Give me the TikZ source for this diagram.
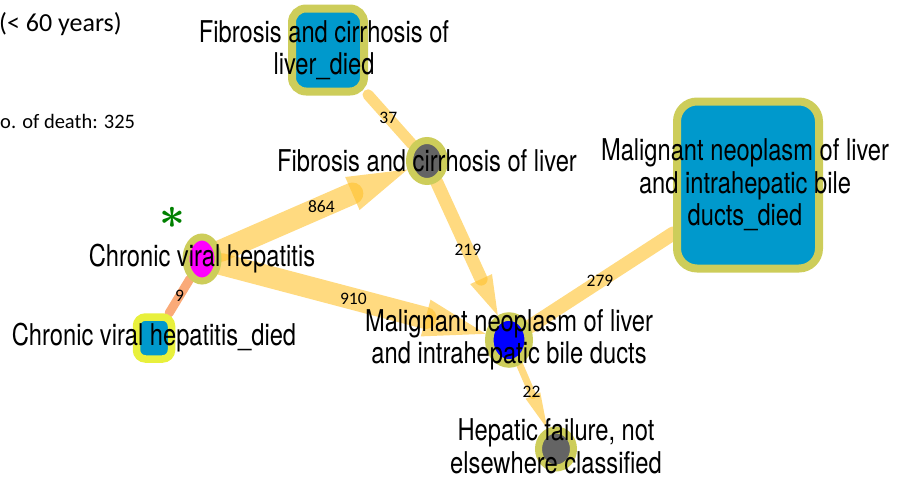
\documentclass[tikz,border=0pt]{standalone}
\usepackage{fontspec}
\usepackage{tikz}
\usetikzlibrary{arrows.meta,shapes.geometric,backgrounds}
\newfontfamily\nodefont[FakeStretch=0.79]{TeX Gyre Heros}
\newfontfamily\countfont{Carlito}
\definecolor{ringcol}{RGB}{205,205,90}
\definecolor{ringdiedcol}{RGB}{232,240,60}
\definecolor{diedcol}{RGB}{0,153,204}
\definecolor{flowcol}{RGB}{255,193,43}
\definecolor{deathcol}{RGB}{247,113,30}
\definecolor{greycol}{RGB}{100,100,100}
\definecolor{hepcol}{RGB}{255,0,255}
\definecolor{malcol}{RGB}{0,0,255}
\definecolor{starcol}{RGB}{0,128,0}
\tikzset{
  % disease node: ring round a coloured core
  dnode/.style={ellipse, draw=ringcol, line width=7pt, fill=#1, inner sep=0pt},
  dnode/.default={greycol},
  % death node: rounded box
  dbox/.style={rectangle, rounded corners=#1, draw=ringcol, line width=8pt, fill=diedcol, inner sep=0pt},
  dbox/.default={12pt},
  % node text
  lbl/.style={font=\nodefont\fontsize{30}{32.5}\selectfont, align=center, inner sep=0pt},
  % transition flow
  flow/.style={line width=#1, draw=flowcol, opacity=0.6, line cap=round},
  % flow with a head: width, head length, head width
  hflow/.style n args={3}{flow=#1, -{Triangle[length=#2, width=#3, line width=0pt]}},
  % count on a flow
  countlbl/.style={font=\countfont\fontsize{17.5}{20}\selectfont, opacity=1, inner sep=0pt},
}
\begin{document}
\begin{tikzpicture}[x=1pt, y=-1pt]
  \useasboundingbox (0,0) rectangle (906,479);
  % header text
  \node[anchor=west, inner sep=0pt, font=\countfont\fontsize{26}{30}\selectfont] (age) at (-1,24) {(< 60 years)};
  \node[anchor=west, inner sep=0pt, font=\countfont\fontsize{20.5}{24}\selectfont] (deaths) at (0,121) {o. of death: 325};
  % diagnoses
  \node[dnode, minimum width=35pt, minimum height=41pt,
        label={[lbl]center:Fibrosis and cirrhosis of liver}] (fib) at (427,161) {};
  \node[dnode=hepcol, minimum width=32pt, minimum height=44pt,
        label={[lbl]center:Chronic viral hepatitis}] (cvh) at (202,259) {};
  \node[dnode=malcol, line width=8.5pt, minimum width=39.5pt, minimum height=47pt,
        label={[lbl]center:{Malignant neoplasm of liver\\and intrahepatic bile ducts}}] (mal) at (509,340) {};
  \node[dnode, minimum width=35pt, minimum height=38pt,
        label={[lbl, yshift=3pt]center:{Hepatic failure, not\\elsewhere classified}}] (hep) at (556,449) {};
  % deaths
  \node[dbox=14pt, minimum width=72pt, minimum height=83pt,
        label={[lbl, xshift=-4pt]center:{Fibrosis and cirrhosis of\\liver\_died}}] (fibd) at (328,50) {};
  \node[dbox=9pt, draw=ringdiedcol, line width=7.5pt, minimum width=35pt, minimum height=42pt,
        label={[lbl]center:Chronic viral hepatitis\_died}] (cvhd) at (154,338) {};
  \node[dbox=20pt, minimum width=142pt, minimum height=167pt,
        label={[lbl, xshift=-3pt]center:{Malignant neoplasm of liver\\and intrahepatic bile\\ducts\_died}}] (mald) at (748,185) {};
  % marker
  \node[text=starcol, inner sep=0pt, scale=4.5, font=\boldmath] (star) at (172,218) {$\ast$};
  % flows
  \begin{scope}[on background layer]
    \draw[flow=11pt] (fib) -- node[countlbl, pos=0.54] {37} (fibd);
    \draw[hflow={22pt}{60pt}{36pt}] (cvh) -- node[countlbl, pos=0.54] {864} (fib);
    \draw[hflow={22pt}{62pt}{38pt}] (cvh) -- node[countlbl, pos=0.5] {910} (mal);
    \draw[hflow={13pt}{40pt}{24pt}] (fib) -- node[countlbl, pos=0.51] {219} (mal);
    \draw[hflow={7pt}{36pt}{16pt}] (mal) -- node[countlbl, pos=0.43] {22} (hep);
    \draw[flow=14pt] (mal) -- node[countlbl, pos=0.49] {279} (mald);
    \draw[flow=9pt, draw=deathcol] (cvh) -- node[countlbl, pos=0.49] {9} (cvhd);
  \end{scope}
\end{tikzpicture}
\end{document}
